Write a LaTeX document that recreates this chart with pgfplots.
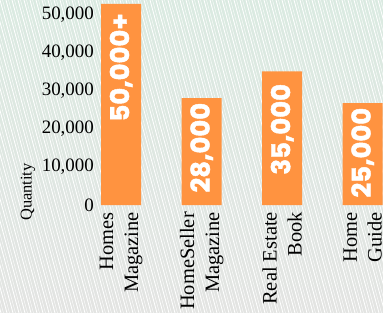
\documentclass[border=0pt]{standalone}
\usepackage{fontspec}
\setmainfont{Liberation Serif}
\newfontfamily\popfont{Poppins}[BoldFeatures={FakeBold=1.6}]
\usepackage{pgfplots}
\pgfplotsset{compat=1.18}
\definecolor{barorange}{HTML}{FF9340}
\definecolor{bgtop}{HTML}{DAEAE1}
\definecolor{bgbot}{HTML}{E3E4E2}
\begin{document}
\begin{tikzpicture}
\useasboundingbox (0bp,0bp) rectangle (383bp,313bp);
\clip (0bp,0bp) rectangle (383bp,313bp);
\shade[top color=bgtop, bottom color=bgbot] (0bp,0bp) rectangle (383bp,313bp);
\foreach \i in {-16,...,66} {
  \draw[white, line width=0.8bp] ({\i*6bp}, 313bp) -- ({\i*6bp+85bp}, 0bp);
  \draw[white, line width=0.5bp, opacity=0.8] ({\i*6bp+2.5bp}, 313bp) -- ({\i*6bp+87.5bp}, 0bp);
}
\begin{axis}[
  at={(97.05bp,108bp)}, anchor=south west,
  x=80.5bp, y=0.00383bp,
  xmin=-0.3, xmax=3.6, ymin=0, ymax=55000,
  axis line style={draw=none},
  tick style={draw=none},
  major tick length=0pt,
  scaled y ticks=false,
  ytick={0,10000,20000,30000,40000,50000},
  /pgf/number format/1000 sep={,},
  /pgf/number format/assume math mode=true,
  yticklabel style={font=\fontsize{19}{19}\selectfont, anchor=east, inner sep=0pt, xshift=-3bp},
  xtick={0,1,2,3},
  xticklabels={{Homes\\Magazine},{HomeSeller\\Magazine},{Real Estate\\Book},{Home\\Guide}},
  xticklabel style={rotate=90, anchor=east, align=right, font=\fontsize{20.5}{25}\selectfont, inner xsep=7bp, inner ysep=0pt},
  clip=false,
]
\addplot[ybar, bar width=40bp, bar shift=0pt, fill=barorange, draw=none] coordinates {(0,52700) (1,28000) (2,35000) (3,26700)};
\node[rotate=90, anchor=east, inner sep=0pt, text=white, font={\popfont\bfseries\fontsize{26}{26}\selectfont}] at (axis cs:0,50260) {50,000+};
\node[rotate=90, anchor=east, inner sep=0pt, text=white, font={\popfont\bfseries\fontsize{26}{26}\selectfont}] at (axis cs:1,26820) {28,000};
\node[rotate=90, anchor=east, inner sep=0pt, text=white, font={\popfont\bfseries\fontsize{26}{26}\selectfont}] at (axis cs:2,31770) {35,000};
\node[rotate=90, anchor=east, inner sep=0pt, text=white, font={\popfont\bfseries\fontsize{26}{26}\selectfont}] at (axis cs:3,25520) {25,000};
\end{axis}
\node[rotate=90, font=\fontsize{16.5}{16.5}\selectfont] at (28bp,121bp) {Quantity};
\end{tikzpicture}
\end{document}
